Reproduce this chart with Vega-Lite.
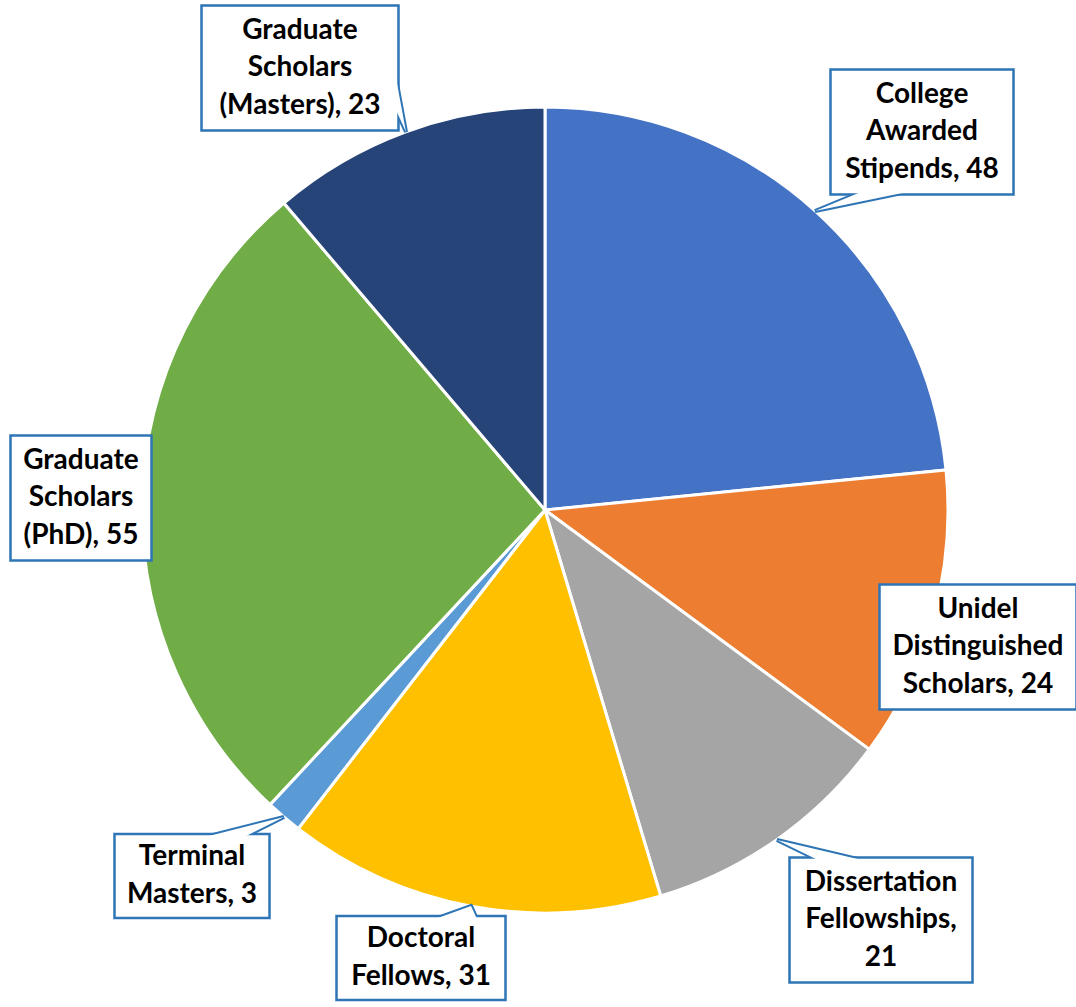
{
  "$schema": "https://vega.github.io/schema/vega-lite/v6.json",
  "autosize": {"type": "none"},
  "width": 1062,
  "height": 994,
  "padding": {"left": 14, "top": 13, "right": 0, "bottom": 0},
  "background": "white",
  "config": {"view": {"stroke": null}},
  "data": {
    "values": [
      {"category": "College Awarded Stipends", "value": 48, "label": "College\nAwarded\nStipends, 48"},
      {"category": "Unidel Distinguished Scholars", "value": 24, "label": "Unidel\nDistinguished\nScholars, 24"},
      {"category": "Dissertation Fellowships", "value": 21, "label": "Dissertation\nFellowships,\n21"},
      {"category": "Doctoral Fellows", "value": 31, "label": "Doctoral\nFellows, 31"},
      {"category": "Terminal Masters", "value": 3, "label": "Terminal\nMasters, 3"},
      {"category": "Graduate Scholars (PhD)", "value": 55, "label": "Graduate\nScholars\n(PhD), 55"},
      {"category": "Graduate Scholars (Masters)", "value": 23, "label": "Graduate\nScholars\n(Masters), 23"}
    ]
  },
  "transform": [
    {"window": [{"op": "row_number", "as": "i"}]},
    {"joinaggregate": [{"op": "sum", "field": "value", "as": "total"}]},
    {"window": [{"op": "sum", "field": "value", "as": "cum"}], "sort": [{"field": "i"}], "frame": [null, 0]},
    {"calculate": "2*PI*(datum.cum - datum.value/2)/datum.total", "as": "a"},
    {"calculate": "split(datum.label,'\\n')", "as": "ls"},
    {"calculate": "length(datum.ls)", "as": "n"},
    {"calculate": "max(length(datum.ls[0]), datum.n>1?length(datum.ls[1]):0, datum.n>2?length(datum.ls[2]):0)", "as": "m"},
    {"calculate": "14*datum.m+15", "as": "bw"},
    {"calculate": "41*datum.n+2", "as": "bh"},
    {"calculate": "round(403*sin(datum.a))", "as": "tx"},
    {"calculate": "round(-403*cos(datum.a))", "as": "ty"},
    {"calculate": "round(clamp(425*sin(datum.a) + datum.bw/2*clamp(3*sin(datum.a),-1,1), -535+datum.bw/2, 531-datum.bw/2))", "as": "cx"},
    {"calculate": "round(clamp(-425*cos(datum.a) - datum.bh/2*clamp(1.5*cos(datum.a),-1,1), -505+datum.bh/2, 490-datum.bh/2))", "as": "cy"},
    {"calculate": "datum.cy - (datum.n-1)*37.5/2", "as": "texty"},
    {"calculate": "datum.tx-datum.cx", "as": "dx"},
    {"calculate": "datum.ty-datum.cy", "as": "dy"},
    {"calculate": "abs(datum.dy) > abs(datum.dx)*datum.bh/datum.bw", "as": "vert"},
    {"calculate": "round(datum.vert ? (-datum.bw/2 + datum.bw*(datum.dx>0?7:2)/12) : (datum.dx>0?1:-1)*(datum.bw/2-3))", "as": "b1x"},
    {"calculate": "round(datum.vert ? (datum.dy>0?1:-1)*(datum.bh/2-3) : (-datum.bh/2 + datum.bh*(datum.dy>0?7:2)/12))", "as": "b1y"},
    {"calculate": "round(datum.vert ? (-datum.bw/2 + datum.bw*(datum.dx>0?10:5)/12) : datum.b1x)", "as": "b2x"},
    {"calculate": "round(datum.vert ? datum.b1y : (-datum.bh/2 + datum.bh*(datum.dy>0?10:5)/12))", "as": "b2y"},
    {"calculate": "'M'+datum.b1x+','+datum.b1y+'L'+datum.dx+','+datum.dy+'L'+datum.b2x+','+datum.b2y+'Z'", "as": "wpath"},
    {"calculate": "'M'+(-datum.bw/2)+','+(-datum.bh/2)+'H'+(datum.bw/2)+'V'+(datum.bh/2)+'H'+(-datum.bw/2)+'Z'", "as": "bpath"}
  ],
  "encoding": {
    "x": {"field": "cx", "type": "quantitative", "scale": {"domain": [-531, 531], "nice": false, "zero": false}, "axis": null},
    "y": {"field": "cy", "type": "quantitative", "scale": {"domain": [-497, 497], "nice": false, "zero": false, "reverse": true}, "axis": null}
  },
  "layer": [
    {
      "mark": {"type": "arc", "radius": 403, "stroke": "white", "strokeWidth": 3},
      "encoding": {
        "x": null,
        "y": null,
        "theta": {"field": "value", "type": "quantitative", "stack": true},
        "order": {"field": "i", "type": "quantitative"},
        "color": {
          "field": "category", "type": "nominal", "legend": null,
          "scale": {
            "domain": ["College Awarded Stipends", "Unidel Distinguished Scholars", "Dissertation Fellowships", "Doctoral Fellows", "Terminal Masters", "Graduate Scholars (PhD)", "Graduate Scholars (Masters)"],
            "range": ["#4472C4", "#ED7D31", "#A5A5A5", "#FFC000", "#5B9BD5", "#70AD47", "#264478"]
          }
        }
      }
    },
    {
      "mark": {"type": "point", "filled": true, "fill": "white", "stroke": "#2E75B6", "strokeWidth": 4, "size": 4, "opacity": 1},
      "encoding": {"shape": {"field": "wpath", "type": "nominal", "scale": null}}
    },
    {
      "mark": {"type": "point", "filled": true, "fill": "white", "stroke": "#2E75B6", "strokeWidth": 2.5, "size": 4, "opacity": 1},
      "encoding": {"shape": {"field": "bpath", "type": "nominal", "scale": null}}
    },
    {
      "mark": {"type": "point", "filled": true, "fill": "white", "strokeWidth": 0, "strokeOpacity": 0, "size": 4, "opacity": 1},
      "encoding": {"shape": {"field": "wpath", "type": "nominal", "scale": null}}
    },
    {
      "mark": {"type": "text", "font": "Lato", "fontWeight": "bold", "fontSize": 28, "lineHeight": 37.5, "align": "center", "baseline": "middle", "lineBreak": "\n", "color": "black"},
      "encoding": {
        "y": {"field": "texty", "type": "quantitative"},
        "text": {"field": "label", "type": "nominal"}
      }
    }
  ]
}
